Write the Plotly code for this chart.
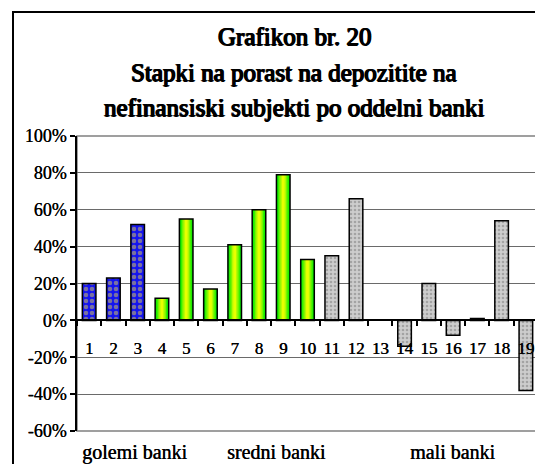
import plotly.graph_objects as go

categories = ["1", "2", "3", "4", "5", "6", "7", "8", "9", "10",
              "11", "12", "13", "14", "15", "16", "17", "18", "19"]
values = [20, 23, 52, 12, 55, 17, 41, 60, 79, 33,
          35, 66, None, -14, 20, -8, 1, 54, -38]
group_large = ["1", "2", "3"]
group_medium = ["4", "5", "6", "7", "8", "9", "10"]
group_small = ["11", "12", "13", "14", "15", "16", "17", "18", "19"]
group_labels = ["golemi banki", "sredni banki", "mali banki"]
title_lines = ["Grafikon br. 20",
               "Stapki na porast na depozitite na",
               "nefinansiski subjekti po oddelni banki"]
y_ticks = [-60, -40, -20, 0, 20, 40, 60, 80, 100]
y_ticktext = ["-60%", "-40%", "-20%", "0%", "20%", "40%", "60%", "80%", "100%"]

val = dict(zip(categories, values))
FONT = "Liberation Serif"
BW = 0.56
OFF = 8  # page body margin
HEAVY = "0.8px 0 0 black, -0.8px 0 0 black, 0 0.5px 0 black"
SEMI = "0.4px 0 0 black"

fig = go.Figure()

fig.add_trace(go.Bar(
    x=group_large, y=[val[c] for c in group_large], width=BW,
    marker=dict(color="#1414F0",
                pattern=dict(shape=".", bgcolor="#1414F0", fgcolor="#E0D050",
                             size=6, solidity=0.45),
                line=dict(color="black", width=1.5)),
    showlegend=False, hoverinfo="skip"))

grad = [("#00E600", 1.0), ("#33F000", 0.8), ("#77F500", 0.6),
        ("#B5FA00", 0.4), ("#E8FF00", 0.2)]
for col, frac in grad:
    fig.add_trace(go.Bar(
        x=group_medium, y=[val[c] for c in group_medium], width=BW * frac,
        marker=dict(color=col, line=dict(width=0)),
        showlegend=False, hoverinfo="skip"))
fig.add_trace(go.Bar(
    x=group_medium, y=[val[c] for c in group_medium], width=BW,
    marker=dict(color="rgba(0,0,0,0)", line=dict(color="black", width=1.5)),
    showlegend=False, hoverinfo="skip"))

fig.add_trace(go.Bar(
    x=group_small, y=[val[c] for c in group_small], width=BW,
    marker=dict(color="#C4C4C4",
                pattern=dict(shape=".", bgcolor="#CDCDCD", fgcolor="#7A7A7A",
                             size=4, solidity=0.35),
                line=dict(color="black", width=1.5)),
    showlegend=False, hoverinfo="skip"))

ann = []
title_y = [37, 72, 107]
for line, yp in zip(title_lines, title_y):
    ann.append(dict(text=line, xref="paper", yref="paper",
                    x=(294 - 77) / 461, y=1 + (136 - yp) / 295,
                    xanchor="center", yanchor="middle", showarrow=False,
                    font=dict(family=FONT, size=25, color="black",
                              shadow=HEAVY)))
for lab, px in zip(group_labels, [134, 276, 452]):
    ann.append(dict(text=lab, xref="paper", yref="paper",
                    x=(px - 77) / 461, y=-(452 - 431) / 295,
                    xanchor="center", yanchor="middle", showarrow=False,
                    font=dict(family=FONT, size=20, color="black",
                              shadow=SEMI)))

shapes = [
    dict(type="rect", xref="paper", yref="paper", x0=0, x1=1, y0=0, y1=1,
         line=dict(color="#808080", width=1.5), layer="below"),
    dict(type="rect", xref="paper", yref="paper",
         x0=(13 - 77) / 461, x1=(560 - 77) / 461,
         y0=-(490 - 431) / 295, y1=1 + (136 - 12) / 295,
         line=dict(color="black", width=2)),
]

fig.update_layout(
    width=543, height=464,
    margin=dict(l=77 - OFF, r=543 - 538 + OFF, t=136 - OFF, b=464 - 431 + OFF,
                autoexpand=False),
    paper_bgcolor="white", plot_bgcolor="white",
    barmode="overlay",
    font=dict(family=FONT, color="black"),
    annotations=ann, shapes=shapes,
    xaxis=dict(type="category", categoryorder="array", categoryarray=categories,
               anchor="free", position=60 / 160,
               showline=True, linecolor="black", linewidth=1.5,
               ticks="outside", tickson="boundaries", ticklen=5,
               tickcolor="black", tickwidth=1.5, tickangle=0,
               ticklabelstandoff=12, automargin=False,
               showgrid=False, zeroline=False,
               tickfont=dict(family=FONT, size=17, color="black", shadow=SEMI),
               range=[-0.5, 18.5]),
    yaxis=dict(range=[-60, 100], tickmode="array", tickvals=y_ticks,
               ticktext=y_ticktext, automargin=False,
               showline=True, linecolor="black", linewidth=1.5,
               ticks="outside", ticklen=5, tickcolor="black", tickwidth=1.5,
               showgrid=True, gridcolor="#6A6A6A", gridwidth=1,
               zeroline=False,
               tickfont=dict(family=FONT, size=18, color="black", shadow=SEMI)),
)

fig.write_html("out.html")
